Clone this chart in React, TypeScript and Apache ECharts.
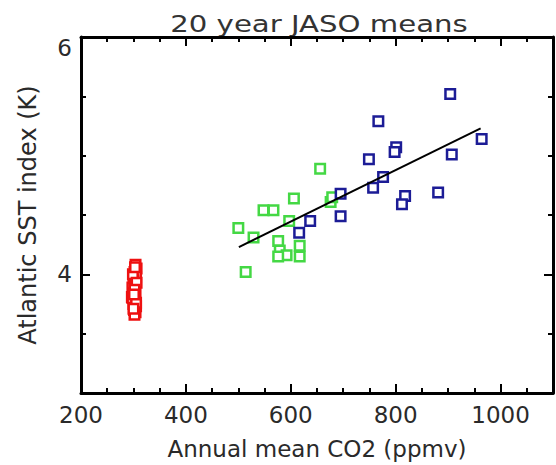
import React, { useEffect, useRef } from "react";
import * as echarts from "echarts";

const titleText = "20 year JASO means";
const xName = "Annual mean CO2 (ppmv)";
const yName = "Atlantic SST index (K)";

const xMin = 200;
const xMax = 1100;
const yMin = 3;
const yMax = 6;
const xLabelValues = [200, 400, 600, 800, 1000];
const yLabelValues = [4, 6];

const redX = [304, 306, 302, 305, 300, 303, 298, 304, 301, 297, 303, 300, 305, 301, 304, 302, 299, 306, 302, 298, 305, 300, 303, 301];
const redY = [4.08, 4.05, 4.02, 3.98, 3.95, 3.92, 3.89, 3.86, 3.84, 3.81, 3.78, 3.75, 3.73, 3.7, 3.68, 3.66, 4.0, 3.93, 3.87, 3.8, 3.76, 3.71, 4.06, 3.83];

const greenX = [656, 606, 548, 567, 597, 500, 529, 576, 617, 579, 592, 617, 576, 514, 676, 679];
const greenY = [4.89, 4.64, 4.54, 4.54, 4.45, 4.39, 4.31, 4.28, 4.24, 4.2, 4.16, 4.15, 4.15, 4.02, 4.61, 4.65];

const blueX = [904, 767, 801, 798, 964, 907, 749, 776, 757, 818, 812, 881, 695, 695, 637, 616];
const blueY = [5.52, 5.29, 5.07, 5.03, 5.14, 5.01, 4.97, 4.82, 4.73, 4.66, 4.59, 4.69, 4.68, 4.49, 4.45, 4.35];

const fitX = [501, 962];
const fitY = [4.23, 5.23];

const FONT = "DejaVu Sans";
const AXIS_COLOR = "#000";
const TEXT_COLOR = "#2a2a2a";

const pairs = (xs: number[], ys: number[]) => xs.map((x, i) => [x, ys[i]]);

export default function App() {
  const ref = useRef<HTMLDivElement>(null);

  useEffect(() => {
    if (!ref.current) return;
    const chart = echarts.init(ref.current, undefined, { renderer: "svg" });

    const lineStyle = { color: AXIS_COLOR, width: 3 };
    const baseX = (position: "top" | "bottom", showLabel: boolean) => ({
      type: "value",
      position,
      min: xMin,
      max: xMax,
      interval: 50,
      axisLine: { show: true, onZero: false, lineStyle },
      axisTick: { show: true, inside: true, length: 5, lineStyle: { color: AXIS_COLOR, width: 2 } },
      splitLine: { show: false },
      axisLabel: {
        show: showLabel,
        interval: 0,
        margin: 10,
        fontSize: 23,
        fontFamily: FONT,
        color: TEXT_COLOR,
        formatter: (v: number) => (xLabelValues.includes(v) ? String(v) : ""),
      },
    });
    const majorX = (position: "top" | "bottom") => ({
      type: "value",
      position,
      min: xMin,
      max: xMax,
      interval: 200,
      axisLine: { show: false, onZero: false },
      axisTick: { show: true, inside: true, length: 9, lineStyle: { color: AXIS_COLOR, width: 2 } },
      splitLine: { show: false },
      axisLabel: { show: false },
    });
    const baseY = (position: "left" | "right", showLabel: boolean) => ({
      type: "value",
      position,
      min: yMin,
      max: yMax,
      interval: 0.5,
      axisLine: { show: true, onZero: false, lineStyle },
      axisTick: { show: true, inside: true, length: 5, lineStyle: { color: AXIS_COLOR, width: 2 } },
      splitLine: { show: false },
      axisLabel: {
        show: showLabel,
        interval: 0,
        margin: 9,
        fontSize: 23,
        fontFamily: FONT,
        color: TEXT_COLOR,
        formatter: (v: number) =>
          v === yMax ? "{top|" + v + "}" : yLabelValues.includes(v) ? String(v) : "",
        rich: {
          top: { padding: [22, 0, 0, 0], fontSize: 23, fontFamily: FONT, color: TEXT_COLOR },
        },
      },
    });
    const majorY = (position: "left" | "right") => ({
      type: "value",
      position,
      min: yMin,
      max: yMax,
      axisLine: { show: false, onZero: false },
      axisTick: {
        show: true,
        inside: true,
        length: 9,
        customValues: yLabelValues,
        lineStyle: { color: AXIS_COLOR, width: 2 },
      },
      splitLine: { show: false },
      axisLabel: { show: false },
    });

    const option: any = {
      animation: false,
      backgroundColor: "#ffffff",
      grid: { left: 81, top: 37, width: 479, height: 358, containLabel: false },
      graphic: [
        {
          type: "text",
          x: 319,
          y: 24,
          scaleX: 1.27,
          style: {
            text: titleText,
            fontSize: 23,
            fontFamily: FONT,
            fill: "#333",
            align: "center",
            verticalAlign: "middle",
            textAlign: "center",
            textVerticalAlign: "middle",
          },
        },
      ],
      xAxis: [
        {
          ...baseX("bottom", true),
          name: xName,
          nameLocation: "middle",
          nameGap: 44,
          nameTextStyle: { fontSize: 23, fontFamily: FONT, color: TEXT_COLOR },
        },
        majorX("bottom"),
        baseX("top", false),
        majorX("top"),
      ],
      yAxis: [
        {
          ...baseY("left", true),
          name: yName,
          nameLocation: "middle",
          nameGap: 41,
          nameTextStyle: { fontSize: 24, fontFamily: FONT, color: TEXT_COLOR },
        },
        majorY("left"),
        baseY("right", false),
        majorY("right"),
      ],
      series: [
        {
          type: "scatter",
          name: "control",
          data: pairs(redX, redY),
          symbol: "rect",
          symbolSize: 9.5,
          itemStyle: { color: "#ffffff", borderColor: "#ee1111", borderWidth: 2.5, opacity: 1 },
        },
        {
          type: "scatter",
          name: "green",
          data: pairs(greenX, greenY),
          symbol: "rect",
          symbolSize: 9.5,
          itemStyle: { color: "#ffffff", borderColor: "#44d844", borderWidth: 2.5, opacity: 1 },
        },
        {
          type: "line",
          name: "fit",
          data: pairs(fitX, fitY),
          symbol: "none",
          lineStyle: { color: "#000", width: 2 },
        },
        {
          type: "scatter",
          name: "blue",
          data: pairs(blueX, blueY),
          symbol: "rect",
          symbolSize: 9.5,
          itemStyle: { color: "#ffffff", borderColor: "#1c1c96", borderWidth: 2.5, opacity: 1 },
        },
      ],
    };

    chart.setOption(option);
    return () => chart.dispose();
  }, []);

  return <div ref={ref} style={{ width: 556, height: 465, position: "absolute", left: 0, top: 0 }} />;
}
